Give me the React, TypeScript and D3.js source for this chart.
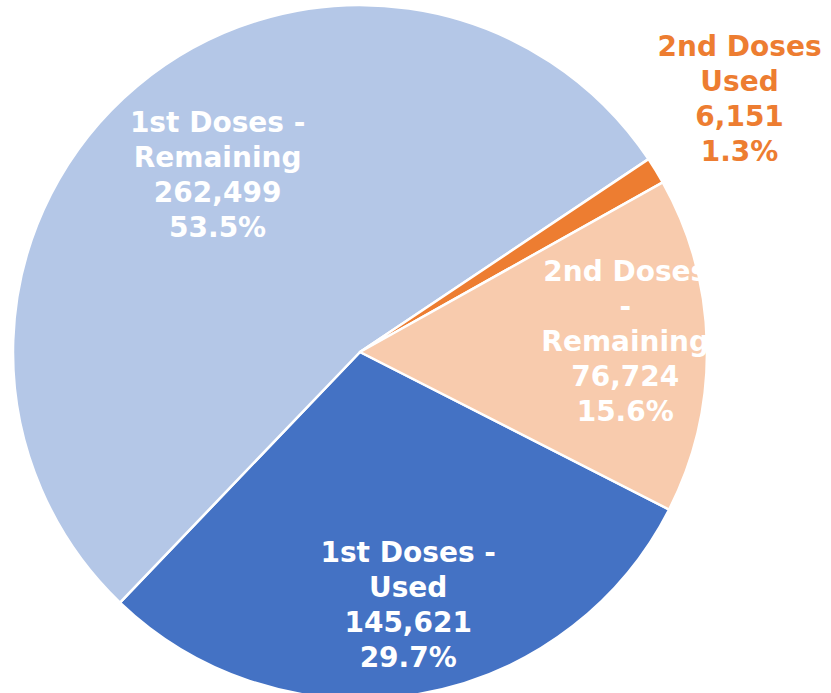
import { useEffect, useRef } from 'react';
import * as d3 from 'd3';

// chart data
const categories = ['1st Doses - Used', '1st Doses - Remaining', '2nd Doses Used', '2nd Doses - Remaining'];
const values = [145621, 262499, 6151, 76724];
const colors = ['#4472C4', '#B4C7E7', '#ED7D31', '#F8CBAD'];
// label text lines (as they are wrapped in the chart)
const labelLines = [
  ['1st Doses -', 'Used'],
  ['1st Doses -', 'Remaining'],
  ['2nd Doses', 'Used'],
  ['2nd Doses', '-', 'Remaining'],
];

const App = () => {
  const svgRef = useRef<SVGSVGElement>(null);

  useEffect(() => {
    const width = 831;
    const height = 693;
    const cx = 360;
    const cy = 352;
    const radius = 347;

    const svg = d3.select(svgRef.current)
      .attr('width', width)
      .attr('height', height)
      .style('background-color', '#ffffff');

    svg.selectAll('*').remove();

    const total = d3.sum(values);
    const data = categories.map((c, i) => ({ name: c, value: values[i], color: colors[i], lines: labelLines[i] }));

    // first slice starts at ~117deg (clockwise from 12 o'clock)
    const start = (117 * Math.PI) / 180;
    const pie = d3.pie<any>()
      .value(d => d.value)
      .sort(null)
      .startAngle(start)
      .endAngle(start + 2 * Math.PI);

    const arcs = pie(data);
    const arc = d3.arc<any>().innerRadius(0).outerRadius(radius);

    const g = svg.append('g').attr('transform', `translate(${cx},${cy})`);

    g.selectAll('path')
      .data(arcs)
      .enter()
      .append('path')
      .attr('d', arc)
      .attr('fill', d => d.data.color)
      .attr('stroke', '#ffffff')
      .attr('stroke-width', 2.5)
      .attr('stroke-linejoin', 'round');

    // label placement: radial factor + angular nudge per slice
    const labelRadius = [0.74, 0.655, 1.315, 0.765];
    const angleNudge = [-1.2, 1.2, -2.2, -1.2];
    const fmt = d3.format(',');
    const pct = d3.format('.1%');
    const lineH = 35;
    const fontSize = 28;

    arcs.forEach((a, i) => {
      const mid = (a.startAngle + a.endAngle) / 2 + (angleNudge[i] * Math.PI) / 180;
      const r = radius * labelRadius[i];
      const x = Math.sin(mid) * r;
      const y = -Math.cos(mid) * r;
      const lines = [...a.data.lines, fmt(a.data.value), pct(a.data.value / total)];
      const outside = labelRadius[i] > 1;
      const text = g.append('text')
        .attr('text-anchor', 'middle')
        .style('font-family', '"DejaVu Sans", sans-serif')
        .style('font-weight', 'bold')
        .style('font-size', `${fontSize}px`)
        .attr('fill', outside ? a.data.color : '#ffffff');
      const y0 = y - ((lines.length - 1) * lineH) / 2 + fontSize * 0.36;
      lines.forEach((l, j) => {
        text.append('tspan')
          .attr('x', x)
          .attr('y', y0 + j * lineH)
          .text(l);
      });
    });
  }, []);

  return <svg ref={svgRef} style={{ position: 'absolute', left: 0, top: 0 }}></svg>;
};

export default App;
